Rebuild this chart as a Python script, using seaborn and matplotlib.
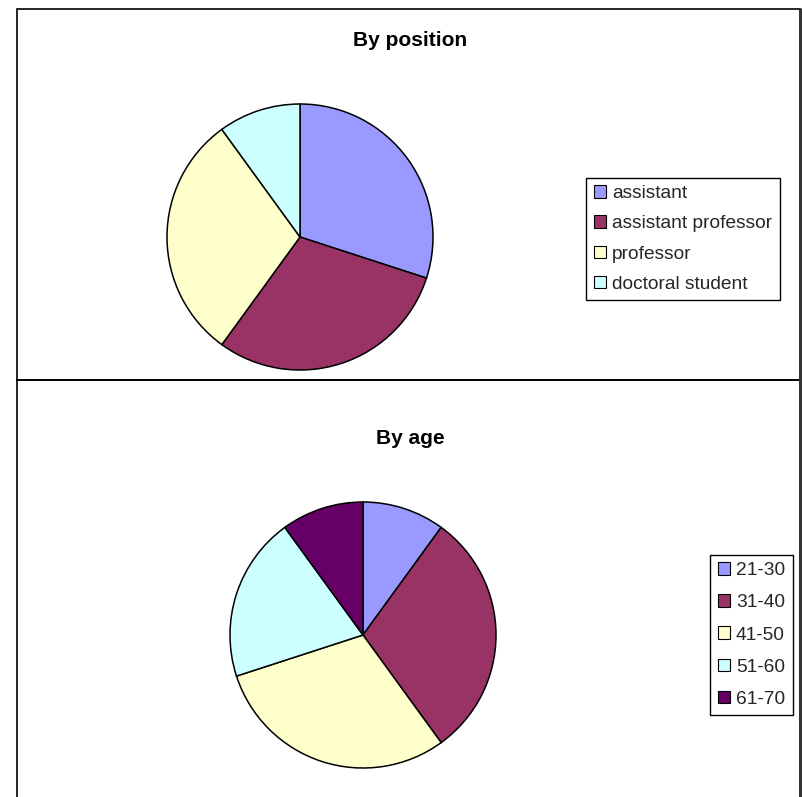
import matplotlib
matplotlib.use("Agg")
import matplotlib.pyplot as plt
import seaborn as sns
from matplotlib.patches import Patch, Rectangle
from matplotlib.lines import Line2D

sns.set_theme(style="white")
plt.rcParams['font.family'] = ['Liberation Sans', 'DejaVu Sans']

# Data
position_labels = ["assistant", "assistant professor", "professor", "doctoral student"]
position_values = [30, 30, 30, 10]
position_colors = ["#9999FF", "#993366", "#FFFFCC", "#CCFFFF"]

age_labels = ["21-30", "31-40", "41-50", "51-60", "61-70"]
age_values = [10, 30, 30, 20, 10]
age_colors = ["#9999FF", "#993366", "#FFFFCC", "#CCFFFF", "#660066"]

W, H = 802, 797
fig = plt.figure(figsize=(W / 100, H / 100), dpi=100)
fig.patch.set_facecolor("white")


def fx(x):
    return x / W


def fy(y):
    return 1 - y / H


def add_panel(y0, y1):
    rect = Rectangle((fx(17), fy(y1)), fx(800) - fx(17), fy(y0) - fy(y1),
                     transform=fig.transFigure, facecolor="none",
                     edgecolor="black", linewidth=1.2, zorder=0)
    fig.patches.append(rect)


add_panel(9, 380)
add_panel(380, 800)
# darker right edge
fig.lines.append(Line2D([fx(800), fx(800)], [fy(9), 0], transform=fig.transFigure,
                        color="#333333", linewidth=2.2))


def draw_pie(cx, cy, r, values, colors, labels, title, title_y, leg_x, leg_y, spacing):
    ax = fig.add_axes([fx(cx - r), fy(cy + r), 2 * r / W, 2 * r / H])
    ax.pie(values, colors=colors, startangle=90, counterclock=False,
           wedgeprops=dict(edgecolor="black", linewidth=1.1))
    ax.set_xlim(-1.0, 1.0)
    ax.set_ylim(-1.0, 1.0)
    ax.set_aspect("equal")
    ax.axis("off")
    fig.text(fx(410), fy(title_y), title, ha="center", va="center",
             fontsize=15, fontweight="bold", color="black")
    handles = [Patch(facecolor=c, edgecolor="black", linewidth=0.8) for c in colors]
    leg = fig.legend(handles, labels, loc="center left",
                     bbox_to_anchor=(fx(leg_x), fy(leg_y)),
                     bbox_transform=fig.transFigure,
                     frameon=True, fancybox=False, shadow=False,
                     fontsize=13.8, handlelength=0.65, handleheight=0.65,
                     handletextpad=0.3, labelspacing=spacing, borderpad=0.4,
                     borderaxespad=0.0)
    fr = leg.get_frame()
    fr.set_edgecolor("black")
    fr.set_linewidth(1.0)
    fr.set_alpha(1)
    return ax


draw_pie(300, 237, 133, position_values, position_colors, position_labels,
         "By position", 40, 586, 239, 0.68)
draw_pie(363, 635, 133, age_values, age_colors, age_labels,
         "By age", 438, 710, 635, 0.78)

fig.savefig("out.png", dpi=100, facecolor="white")
